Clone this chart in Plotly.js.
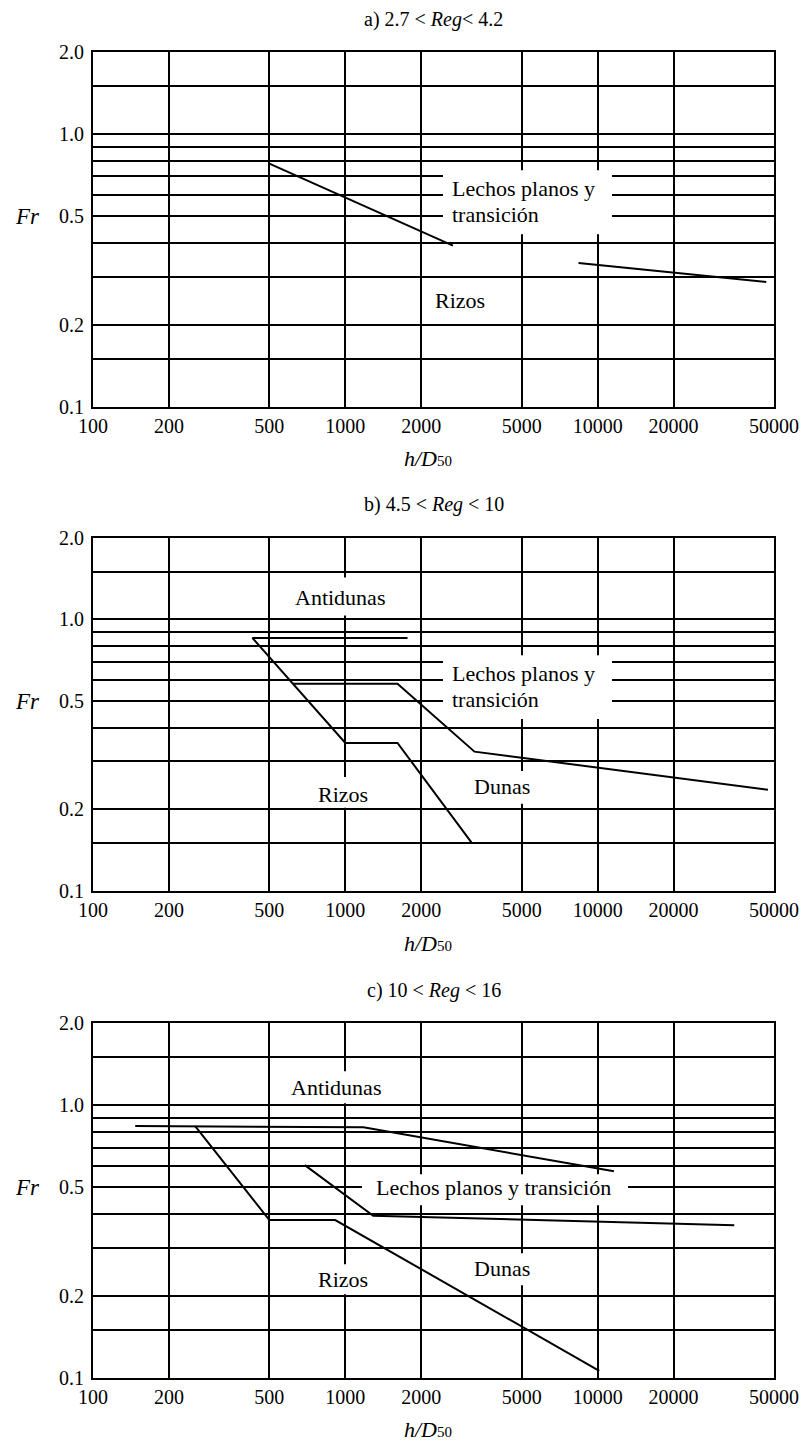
<!DOCTYPE html>
<html>
<head>
<meta charset="utf-8">
<script src="https://cdn.plot.ly/plotly-3.0.1.min.js"></script>
<style>
  html, body { margin: 0; padding: 0; background: #ffffff; }
  #chart { width: 807px; height: 1447px; }
</style>
</head>
<body>
<div id="chart"></div>
<script>
// Bed-form regime diagrams: Froude number vs relative depth h/D50

// Shared axis values
const xTickVals = [100, 200, 500, 1000, 2000, 5000, 10000, 20000, 50000];
const xTickText = ['100', '200', '500', '1000', '2000', '5000', '10000', '20000', '50000'];
const yGridVals = [0.1, 0.15, 0.2, 0.3, 0.4, 0.5, 0.6, 0.7, 0.8, 0.9, 1.0, 1.5, 2.0];
const yTickText = ['0.1', '', '0.2', '', '', '0.5', '', '', '', '', '1.0', '', '2.0'];

// Panel a) 2.7 < Reg < 4.2
const aUpperX = [500, 2670];
const aUpperY = [0.78, 0.39];
const aLowerX = [8400, 46600];
const aLowerY = [0.337, 0.287];

// Panel b) 4.5 < Reg < 10
const bAntidunasX = [428, 1764];
const bAntidunasY = [0.855, 0.855];
const bRizosX = [428, 1000, 1610, 3160];
const bRizosY = [0.855, 0.351, 0.351, 0.151];
const bDunasX = [620, 1610, 3250, 47300];
const bDunasY = [0.58, 0.58, 0.326, 0.236];

// Panel c) 10 < Reg < 16
const cAntidunasX = [147, 1180, 11600];
const cAntidunasY = [0.84, 0.83, 0.573];
const cRizosX = [254, 500, 912, 10150];
const cRizosY = [0.838, 0.379, 0.379, 0.106];
const cDunasX = [691, 1290, 34800];
const cDunasY = [0.603, 0.393, 0.363];

const panelTitles = [
  'a) 2.7 &lt; <i>Reg</i>&lt; 4.2',
  'b) 4.5 &lt; <i>Reg</i> &lt; 10',
  'c) 10 &lt; <i>Reg</i> &lt; 16'
];

const FONT = '"Liberation Serif", "Times New Roman", Times, serif';
const X_MIN = 100, X_MAX = 50000, Y_MIN = 0.1, Y_MAX = 2.0;
const lg = Math.log10;

// fractions of each subplot's axis domain, for the white label backgrounds
const fx = v => (lg(v) - lg(X_MIN)) / (lg(X_MAX) - lg(X_MIN));
const fy = v => (lg(v) - lg(Y_MIN)) / (lg(Y_MAX) - lg(Y_MIN));

const domains = [
  [0.71894, 0.96386],
  [0.38424, 0.62840],
  [0.04789, 0.29281]
];

const lineStyle = { color: '#000000', width: 2 };
function boundary(x, y, k) {
  return {
    x: x, y: y, type: 'scatter', mode: 'lines',
    line: lineStyle, hoverinfo: 'skip', showlegend: false,
    xaxis: k === 0 ? 'x' : 'x' + (k + 1),
    yaxis: k === 0 ? 'y' : 'y' + (k + 1)
  };
}

const data = [
  boundary(aUpperX, aUpperY, 0),
  boundary(aLowerX, aLowerY, 0),
  boundary(bAntidunasX, bAntidunasY, 1),
  boundary(bRizosX, bRizosY, 1),
  boundary(bDunasX, bDunasY, 1),
  boundary(cAntidunasX, cAntidunasY, 2),
  boundary(cRizosX, cRizosY, 2),
  boundary(cDunasX, cDunasY, 2)
];

// Region labels per panel: text anchor (data units) and the white patch behind it
const regionLabels = [
  [
    { text: 'Lechos planos y', x: 2600, y: 0.633, anchor: 'left' },
    { text: 'transición', x: 2600, y: 0.5085, anchor: 'left' },
    { text: 'Rizos', x: 2849, y: 0.2464, anchor: 'center' }
  ],
  [
    { text: 'Antidunas', x: 953, y: 1.20, anchor: 'center' },
    { text: 'Lechos planos y', x: 2600, y: 0.633, anchor: 'left' },
    { text: 'transición', x: 2600, y: 0.5085, anchor: 'left' },
    { text: 'Rizos', x: 979, y: 0.227, anchor: 'center' },
    { text: 'Dunas', x: 4170, y: 0.2426, anchor: 'center' }
  ],
  [
    { text: 'Antidunas', x: 916, y: 1.164, anchor: 'center' },
    { text: 'Lechos planos y transición', x: 3882, y: 0.5, anchor: 'center' },
    { text: 'Rizos', x: 981, y: 0.2284, anchor: 'center' },
    { text: 'Dunas', x: 4170, y: 0.2521, anchor: 'center' }
  ]
];

// [x0, x1, y0, y1] patches where the grid is interrupted by a label
const labelPatches = [
  [[2438, 11400, 0.430, 0.738]],
  [[587, 1531, 1.034, 1.427], [2438, 11400, 0.430, 0.738],
   [738, 1300, 0.2025, 0.263], [3034, 5754, 0.2094, 0.2767]],
  [[571, 1476, 1.017, 1.333], [1164, 13200, 0.430, 0.558],
   [738, 1300, 0.2025, 0.2608], [3034, 5754, 0.2184, 0.2862]]
];

const layout = {
  width: 807, height: 1447,
  margin: { l: 93, r: 33, t: 0, b: 0, pad: 0 },
  paper_bgcolor: '#ffffff', plot_bgcolor: '#ffffff',
  showlegend: false, hovermode: false,
  font: { family: FONT, color: '#000000', size: 20 },
  annotations: [], shapes: []
};

for (let k = 0; k < 3; k++) {
  const sfx = k === 0 ? '' : String(k + 1);
  const xName = 'xaxis' + sfx, yName = 'yaxis' + sfx;
  const xId = 'x' + sfx, yId = 'y' + sfx;

  layout[xName] = {
    type: 'log', range: [lg(X_MIN), lg(X_MAX)], domain: [0, 1], anchor: yId,
    tickmode: 'array', tickvals: xTickVals, ticktext: xTickText,
    ticks: '', ticklabelstandoff: 0,
    tickfont: { family: FONT, size: 20, color: '#000000' },
    showgrid: true, gridcolor: '#000000', gridwidth: 2,
    showline: true, mirror: true, linecolor: '#000000', linewidth: 2,
    zeroline: false, fixedrange: true
  };
  layout[yName] = {
    type: 'log', range: [lg(Y_MIN), lg(Y_MAX)], domain: domains[k], anchor: xId,
    tickmode: 'array', tickvals: yGridVals, ticktext: yTickText,
    ticks: '', ticklabelstandoff: 3,
    tickfont: { family: FONT, size: 20, color: '#000000' },
    showgrid: true, gridcolor: '#000000', gridwidth: 2,
    showline: true, mirror: true, linecolor: '#000000', linewidth: 2,
    zeroline: false, fixedrange: true
  };

  // panel title
  layout.annotations.push({
    text: panelTitles[k], xref: 'paper', x: 0.5, yref: yId + ' domain', y: 1,
    yshift: 33, xanchor: 'center', yanchor: 'middle', showarrow: false,
    font: { family: FONT, size: 20, color: '#000000' }
  });
  // axis names
  layout.annotations.push({
    text: '<i>Fr</i>', xref: 'paper', x: -0.0969, yref: yId, y: lg(0.5),
    xanchor: 'center', yanchor: 'middle', showarrow: false,
    font: { family: FONT, size: 23, color: '#000000' }
  });
  layout.annotations.push({
    text: '<i>h/D</i><span style="font-size:15px">50</span>',
    xref: 'paper', x: 0.492, yref: yId + ' domain', y: 0, yshift: -52,
    xanchor: 'center', yanchor: 'middle', showarrow: false,
    font: { family: FONT, size: 22, color: '#000000' }
  });

  // white patches behind the region labels
  labelPatches[k].forEach(p => {
    layout.shapes.push({
      type: 'rect', layer: 'above',
      xref: xId + ' domain', yref: yId + ' domain',
      x0: fx(p[0]), x1: fx(p[1]), y0: fy(p[2]), y1: fy(p[3]),
      fillcolor: '#ffffff', line: { width: 0 }
    });
  });

  // region labels
  regionLabels[k].forEach(l => {
    layout.annotations.push({
      text: l.text, xref: xId, yref: yId, x: lg(l.x), y: lg(l.y),
      xanchor: l.anchor, yanchor: 'middle', showarrow: false,
      font: { family: FONT, size: 22, color: '#000000' }
    });
  });
}

Plotly.newPlot('chart', data, layout, { staticPlot: true, displayModeBar: false });
</script>
</body>
</html>
